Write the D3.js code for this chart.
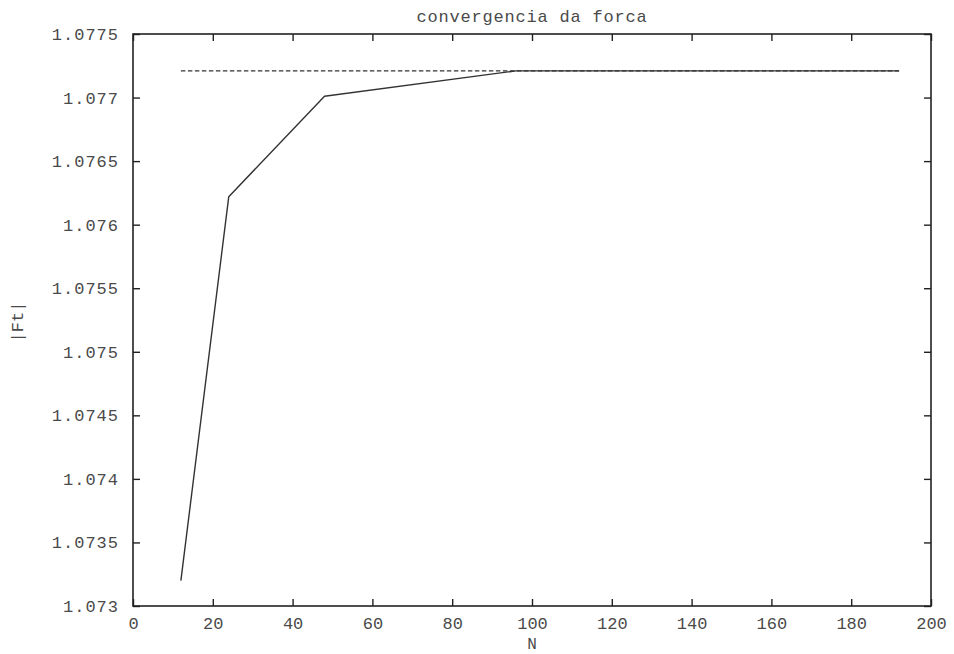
<!DOCTYPE html>
<html>
<head>
<meta charset="utf-8">
<script src="https://cdn.jsdelivr.net/npm/d3@7"></script>
<style>
  html, body { margin: 0; padding: 0; background: #fff; }
  svg { display: block; }
  text { font-family: "Liberation Mono", "DejaVu Sans Mono", monospace; fill: #4a4a4a; }
</style>
</head>
<body>
<div id="chart"><svg></svg></div>
<script>
// values
const nValues = [12, 24, 48, 96, 192];
const ftValues = [1.0732, 1.07622, 1.07701, 1.07721, 1.07721];
const refN = [12, 192];
const refFt = [1.07721, 1.07721];
const xTicks = [0, 20, 40, 60, 80, 100, 120, 140, 160, 180, 200];
const yTicks = [1.073, 1.0735, 1.074, 1.0745, 1.075, 1.0755, 1.076, 1.0765, 1.077, 1.0775];

document.addEventListener("DOMContentLoaded", function () {
  const margin = { top: 34, right: 23, bottom: 48, left: 133 },
    width = 954 - margin.left - margin.right,
    height = 654 - margin.top - margin.bottom;

  const svg = d3
    .select("#chart svg")
    .attr("width", 954)
    .attr("height", 654)
    .append("g")
    .attr("transform", `translate(${margin.left},${margin.top})`);

  const x = d3.scaleLinear().domain([0, 200]).range([0, width]);
  const y = d3.scaleLinear().domain([1.073, 1.0775]).range([height, 0]);

  const fmt = (d) => String(+d.toFixed(4));
  const tick = -7;

  // axes: inward ticks on all four sides, labels only left and bottom
  svg
    .append("g")
    .attr("transform", `translate(0,${height})`)
    .call(d3.axisBottom(x).tickValues(xTicks).tickSize(tick).tickPadding(11).tickFormat(fmt));
  svg
    .append("g")
    .call(d3.axisTop(x).tickValues(xTicks).tickSize(tick).tickFormat(""));
  const yAxis = svg
    .append("g")
    .call(d3.axisLeft(y).tickValues(yTicks).tickSize(tick).tickPadding(14).tickFormat(fmt));
  svg
    .append("g")
    .attr("transform", `translate(${width},0)`)
    .call(d3.axisRight(y).tickValues(yTicks).tickSize(tick).tickFormat(""));

  svg.selectAll(".domain").remove();
  svg.selectAll(".tick line").attr("stroke", "#222").attr("stroke-width", 1.4);
  svg
    .selectAll(".tick text")
    .attr("fill", "#4a4a4a")
    .style("font-size", "17px")
    .style("font-family", '"Liberation Mono", "DejaVu Sans Mono", monospace');
  yAxis.selectAll(".tick text").attr("letter-spacing", 1);

  // frame
  svg
    .append("rect")
    .attr("width", width)
    .attr("height", height)
    .attr("fill", "none")
    .attr("stroke", "#222")
    .attr("stroke-width", 1.6);

  const line = d3
    .line()
    .x((d) => x(d[0]))
    .y((d) => y(d[1]));

  // reference (dashed) value
  svg
    .append("path")
    .datum(d3.zip(refN, refFt))
    .attr("d", line)
    .attr("fill", "none")
    .attr("stroke", "#333")
    .attr("stroke-width", 1.3)
    .attr("stroke-dasharray", "4.5,2.5");

  // computed force
  svg
    .append("path")
    .datum(d3.zip(nValues, ftValues))
    .attr("d", line)
    .attr("fill", "none")
    .attr("stroke", "#333")
    .attr("stroke-width", 1.4)
    .attr("stroke-linejoin", "round");

  // titles
  svg
    .append("text")
    .attr("x", width / 2)
    .attr("y", 22 - margin.top)
    .attr("text-anchor", "middle")
    .style("font-size", "17px")
    .attr("letter-spacing", 0.8)
    .text("convergencia da forca");

  svg
    .append("text")
    .attr("x", width / 2)
    .attr("y", 649 - margin.top)
    .attr("text-anchor", "middle")
    .style("font-size", "16px")
    .text("N");

  svg
    .append("text")
    .attr("transform", `translate(${23 - margin.left},${322 - margin.top}) rotate(-90)`)
    .attr("text-anchor", "middle")
    .style("font-size", "17px")
    .text("|Ft|");
});
</script>
</body>
</html>
